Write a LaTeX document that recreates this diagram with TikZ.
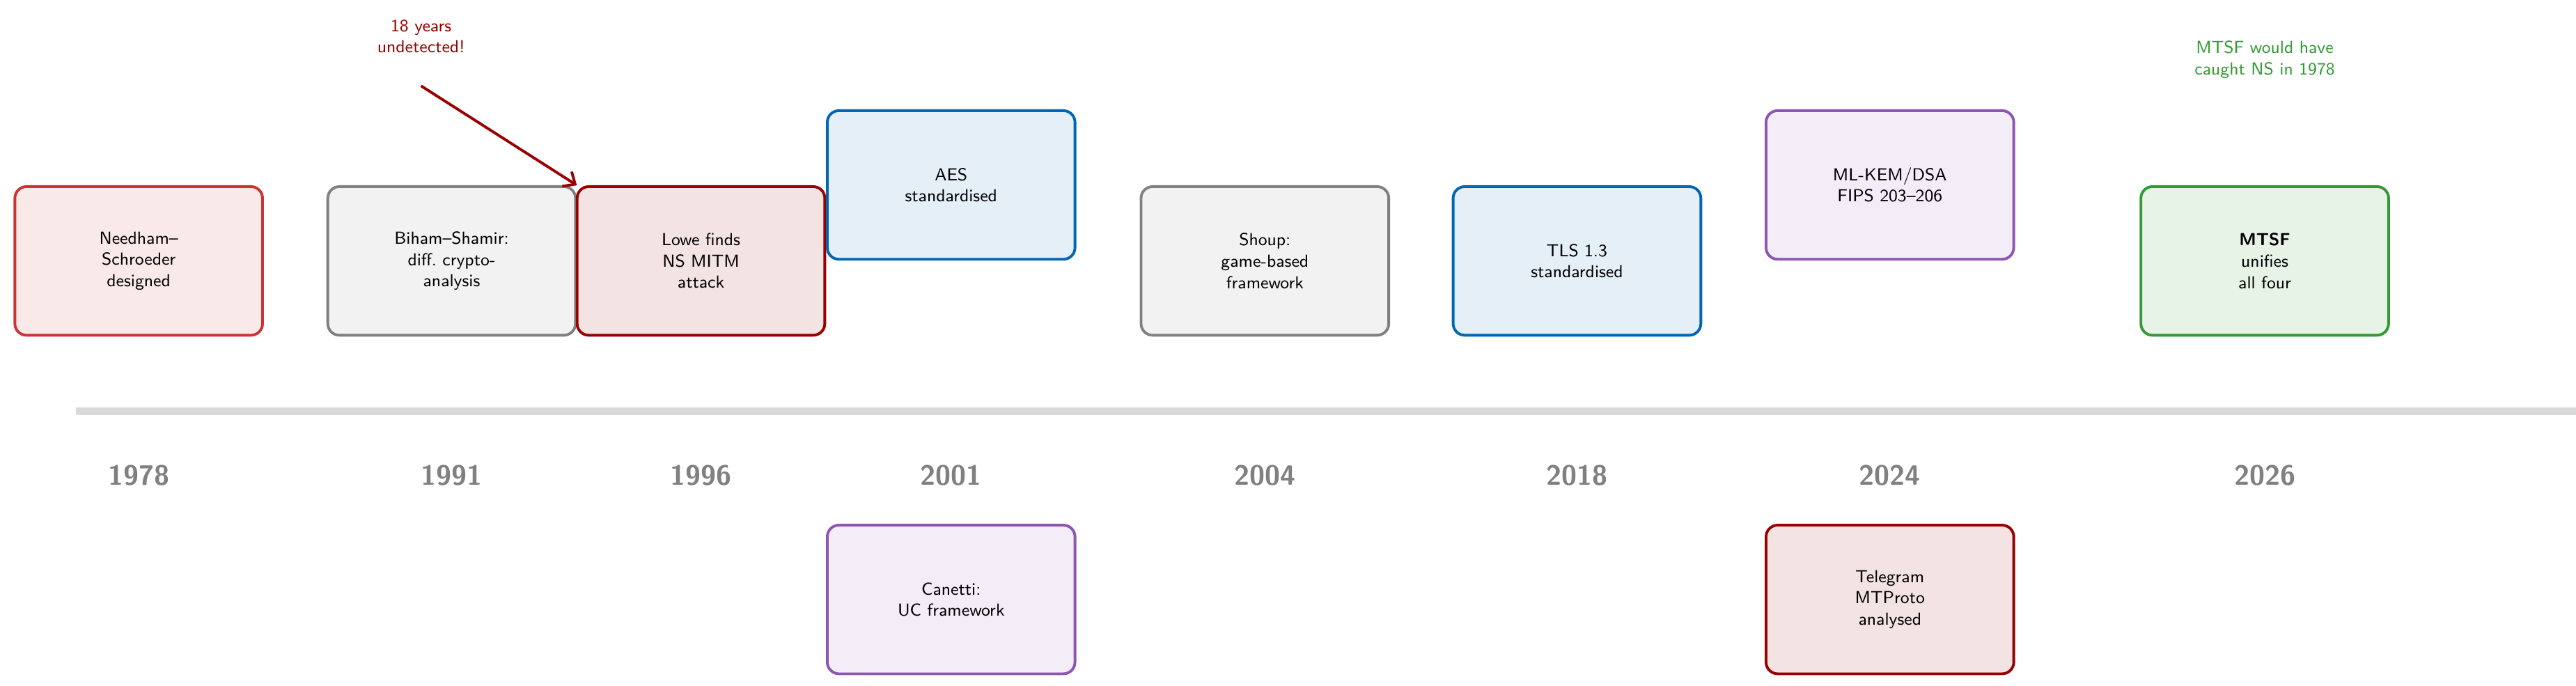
\documentclass[tikz,border=0pt]{standalone}
\usetikzlibrary{arrows.meta}
\definecolor{nsred}{HTML}{CC3333}
\definecolor{nsfill}{HTML}{F9E9E9}
\definecolor{dred}{HTML}{990000}
\definecolor{dredfill}{HTML}{F3E3E3}
\definecolor{gborder}{HTML}{808080}
\definecolor{gfill}{HTML}{F2F2F2}
\definecolor{bborder}{HTML}{0066B3}
\definecolor{bfill}{HTML}{E5EFF8}
\definecolor{pborder}{HTML}{8E55B5}
\definecolor{pfill}{HTML}{F3EDF8}
\definecolor{grborder}{HTML}{339933}
\definecolor{grfill}{HTML}{E8F3E8}
\definecolor{tline}{HTML}{D9D9D9}
\definecolor{yeargray}{HTML}{808080}
\begin{document}
\begin{tikzpicture}[x=0.03cm,y=-0.03cm,
  ev/.style={draw=#1, line width=1.4pt, rounded corners=6pt, minimum width=4.5cm, minimum height=2.7cm,
    align=center, font=\sffamily\small, text width=4cm, inner sep=0pt},
  yr/.style={font=\sffamily\bfseries\Large, text=yeargray},
  note/.style={font=\sffamily\small, align=center}]
\useasboundingbox (0,0) rectangle (1560,415);
\draw[tline, line width=4pt] (46,249) -- (1560,249);
\node[ev=nsred, fill=nsfill] (ns) at (84,158) {Needham--\\Schroeder\\designed};
\node[ev=gborder, fill=gfill] (bs) at (273.5,158) {Biham--Shamir:\\diff.\ crypto-\\analysis};
\node[ev=dred, fill=dredfill] (lowe) at (424.5,158) {Lowe finds\\NS MITM\\attack};
\node[ev=bborder, fill=bfill] (aes) at (576,112) {AES\\standardised};
\node[ev=pborder, fill=pfill] (can) at (576,363) {Canetti:\\UC framework};
\node[ev=gborder, fill=gfill] (shoup) at (766,158) {Shoup:\\game-based\\framework};
\node[ev=bborder, fill=bfill] (tls) at (955,158) {TLS 1.3\\standardised};
\node[ev=pborder, fill=pfill] (ml) at (1144.5,112) {ML-KEM/DSA\\FIPS 203--206};
\node[ev=dred, fill=dredfill] (tg) at (1144.5,363) {Telegram\\MTProto\\analysed};
\node[ev=grborder, fill=grfill] (mtsf) at (1371.5,158) {\textbf{MTSF}\\unifies\\all four};
\node[yr] (y1) at (84,288) {1978};
\node[yr] (y2) at (273.5,288) {1991};
\node[yr] (y3) at (424.5,288) {1996};
\node[yr] (y4) at (576,288) {2001};
\node[yr] (y5) at (766,288) {2004};
\node[yr] (y6) at (955,288) {2018};
\node[yr] (y7) at (1144.5,288) {2024};
\node[yr] (y8) at (1371.5,288) {2026};
\node[note, text=dred] (n1) at (255,22) {18 years\\undetected!};
\node[note, text=grborder] (n2) at (1371.5,36) {MTSF would have\\caught NS in 1978};
\coordinate (as) at (255,52);
\draw[dred, line width=1.4pt, -{Straight Barb[length=5pt,width=9pt]}] (as) -- (bs.north east);
\end{tikzpicture}
\end{document}
